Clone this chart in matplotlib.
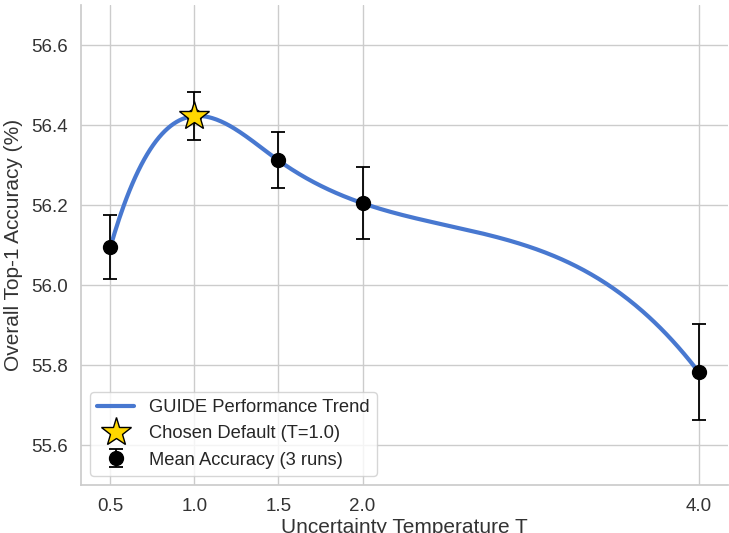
import numpy as np
import matplotlib
matplotlib.use('Agg')
import matplotlib.pyplot as plt
import seaborn as sns

# temperatures and measured accuracy (mean over 3 runs)
temps = [0.5, 1.0, 1.5, 2.0, 4.0]
acc_mean = [56.095, 56.423, 56.312, 56.205, 55.782]
acc_std = [0.080, 0.060, 0.070, 0.090, 0.120]
chosen_T = 1.0
xtick_vals = [0.5, 1.0, 1.5, 2.0, 4.0]
ytick_vals = [55.6, 55.8, 56.0, 56.2, 56.4, 56.6]


def cubic_spline(x, y, xs):
    '''not-a-knot cubic spline, same as scipy make_interp_spline(k=3)'''
    x = np.asarray(x, float)
    y = np.asarray(y, float)
    n = len(x)
    h = np.diff(x)
    A = np.zeros((n, n))
    b = np.zeros(n)
    A[0, 0], A[0, 1], A[0, 2] = h[1], -(h[0] + h[1]), h[0]
    for i in range(1, n - 1):
        A[i, i - 1] = h[i - 1]
        A[i, i] = 2 * (h[i - 1] + h[i])
        A[i, i + 1] = h[i]
        b[i] = 6 * ((y[i + 1] - y[i]) / h[i] - (y[i] - y[i - 1]) / h[i - 1])
    A[-1, -3], A[-1, -2], A[-1, -1] = h[-1], -(h[-2] + h[-1]), h[-2]
    M = np.linalg.solve(A, b)
    idx = np.clip(np.searchsorted(x, xs) - 1, 0, n - 2)
    x0, x1 = x[idx], x[idx + 1]
    hh = h[idx]
    return (M[idx] * (x1 - xs) ** 3 / (6 * hh) + M[idx + 1] * (xs - x0) ** 3 / (6 * hh)
            + (y[idx] / hh - M[idx] * hh / 6) * (x1 - xs)
            + (y[idx + 1] / hh - M[idx + 1] * hh / 6) * (xs - x0))


sns.set_theme(style='whitegrid')
plt.rcParams['font.family'] = ['Liberation Sans', 'DejaVu Sans']

fig, ax = plt.subplots(figsize=(7.29, 5.33), dpi=100)
fig.subplots_adjust(left=0.111, right=0.999, bottom=0.09, top=0.99)

xs = np.linspace(min(temps), max(temps), 400)
ys = cubic_spline(temps, acc_mean, xs)
ax.plot(xs, ys, color='#4878d0', lw=3, label='GUIDE Performance Trend', zorder=2)

ax.errorbar(temps, acc_mean, yerr=acc_std, fmt='o', color='black', ms=10,
            capsize=5, elinewidth=1.3, capthick=1.3, label='Mean Accuracy (3 runs)', zorder=3)

ci = temps.index(chosen_T)
ax.plot([chosen_T], [acc_mean[ci]], marker='*', ls='none', ms=22, color='gold',
        mec='black', mew=1, label='Chosen Default (T=1.0)', zorder=4)

ax.set_xticks(xtick_vals)
ax.set_xticklabels([f'{v:.1f}' for v in xtick_vals])
ax.set_yticks(ytick_vals)
ax.set_ylim(55.5, 56.7)
ax.tick_params(labelsize=13.5, colors='#333333')
ax.set_xlabel('Uncertainty Temperature T', fontsize=15, color='#333333', labelpad=2)
ax.set_ylabel('Overall Top-1 Accuracy (%)', fontsize=15, color='#333333', labelpad=6)
sns.despine(ax=ax)

handles, labels = ax.get_legend_handles_labels()
order = [labels.index('GUIDE Performance Trend'), labels.index('Chosen Default (T=1.0)'),
         labels.index('Mean Accuracy (3 runs)')]
ax.legend([handles[i] for i in order], [labels[i] for i in order], loc='lower left',
          fontsize=13.2, frameon=True)

fig.savefig('out.png', dpi=100)
